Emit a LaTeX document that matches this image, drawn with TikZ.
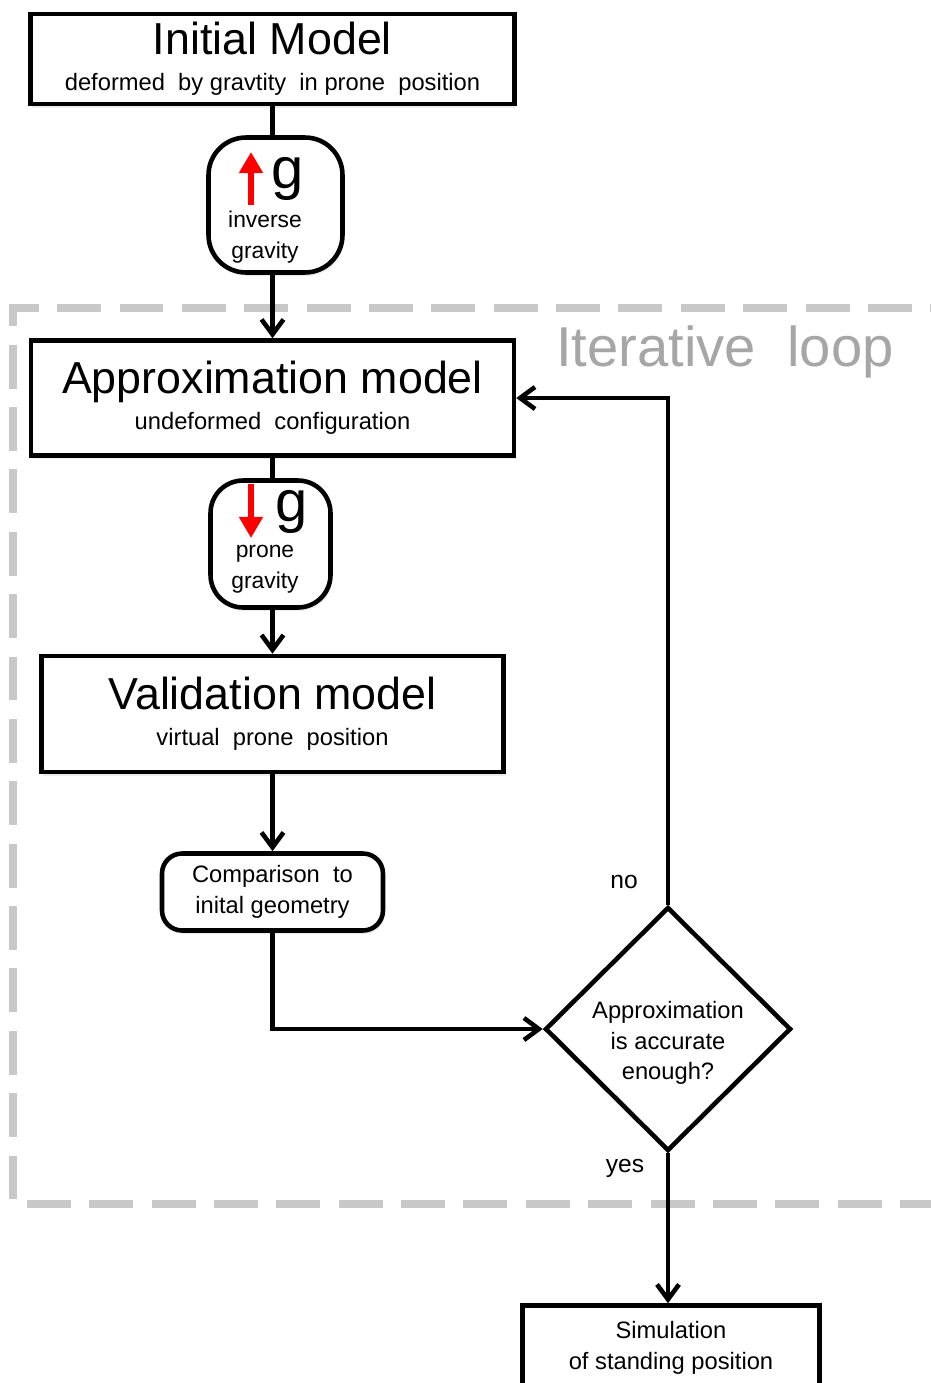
\documentclass[tikz,border=0pt]{standalone}
\usepackage{fontspec}
\setmainfont{Liberation Sans}
\usepackage{tikz}
\usetikzlibrary{shapes.geometric,arrows.meta,shadows}
\definecolor{loopgrey}{HTML}{C8C8C8}
\definecolor{looptext}{HTML}{A6A6A6}
\definecolor{gred}{HTML}{FF0000}
\newcommand{\titlefont}{\fontsize{25.5}{28}\selectfont}
\newcommand{\subfont}{\fontsize{13.5}{20.4}\selectfont}
\newcommand{\smallfont}{\fontsize{13.5}{17.4}\selectfont}

\begin{document}
\begin{tikzpicture}[x=0.02cm, y=-0.02cm, line width=2.6pt,
  >={Straight Barb[length=8.5pt,width=12.5pt]},
  shade/.style={drop shadow={opacity=0.15, shadow xshift=1pt, shadow yshift=-2pt}},
  model/.style={draw, fill=white, shade, align=center, inner sep=0pt, font=\subfont},
  gbox/.style={draw, fill=white, shade, inner sep=0pt},
  gsym/.style={anchor=base, inner sep=0pt, font=\fontsize{33}{33}\selectfont},
  glabel/.style={align=center, inner sep=0pt, font=\fontsize{13}{17.6}\selectfont},
  garr/.style={draw=gred, line width=3.4pt, -{Triangle[length=12pt,width=13pt]}},
  roundbox/.style={draw, fill=white, shade, rounded corners=0.4cm, align=center,
                   inner sep=0pt, font=\smallfont},
  decision/.style={draw, fill=white, diamond, aspect=1, inner sep=0pt,
                   minimum width=4.92cm, minimum height=4.88cm},
  dectext/.style={align=center, inner sep=0pt, font=\smallfont},
  lbl/.style={inner sep=0pt, font=\fontsize{14}{16}\selectfont},
  loopframe/.style={draw=loopgrey, line width=4.2pt, dash pattern=on 25pt off 10.5pt,
                    dash phase=19.5pt}]
  \useasboundingbox (0,0) rectangle (930,1383);

  % iterative loop frame
  \draw[loopframe] (940,308) -- (13,308) -- (13,1204) -- (940,1204);
  \node[text=looptext, inner sep=0pt, font=\fontsize{32}{34}\selectfont]
    (looptitle) at (725,352) {Iterative~ loop};

  % main column
  \node[model, minimum width=9.68cm, minimum height=1.8cm] (init) at (272.5,59)
    {{\titlefont Initial Model}\\deformed~ by gravtity~ in prone~ position};
  \node[gbox, rounded corners=0.75cm, minimum width=2.68cm, minimum height=2.7cm]
    (inv) at (275.5,205) {};
  \node[gsym] (ginv) at (288,188) {g};
  \node[glabel] (invlbl) at (265,237) {inverse\\gravity};
  \draw[garr] (251,205) -- (251,152);

  \node[model, minimum width=9.66cm, minimum height=2.3cm] (approx) at (272.5,398)
    {{\titlefont Approximation model}\\undeformed~ configuration};
  \node[gbox, rounded corners=0.65cm, minimum width=2.4cm, minimum height=2.54cm]
    (prone) at (270.5,544) {};
  \node[gsym] (gprone) at (292,521) {g};
  \node[glabel] (pronelbl) at (265,569) {prone\\gravity};
  \draw[garr] (251,484) -- (251,538);

  \node[model, minimum width=9.24cm, minimum height=2.32cm] (valid) at (272.5,714)
    {{\titlefont Validation model}\\virtual~ prone~ position};
  \node[roundbox, minimum width=4.42cm, minimum height=1.54cm] (comp) at (272.5,892)
    {Comparison~ to\\inital geometry};

  % decision and result
  \node[decision] (dec) at (668,1029) {};
  \node[dectext] (dectxt) at (668,1043) {Approximation\\is accurate\\enough?};
  \node[model, font=\smallfont, minimum width=5.94cm, minimum height=1.7cm]
    (sim) at (671,1348) {Simulation\\of standing position};
  \node[lbl] (no) at (624,882) {no};
  \node[lbl] (yes) at (625,1168) {yes};

  % connectors
  \draw (init.south) -- (init.south |- inv.north);
  \draw[->] (approx.north |- inv.south) -- (approx.north);
  \draw (approx.south) -- (approx.south |- prone.north);
  \draw[->] (valid.north |- prone.south) -- (valid.north);
  \draw[->] (valid.south) -- (comp.north);
  \draw[->] (comp.south) |- (dec.west);
  \draw[->] (dec.north) |- (approx.east);
  \draw[->] (dec.south) -- (dec.south |- sim.north);
\end{tikzpicture}
\end{document}
